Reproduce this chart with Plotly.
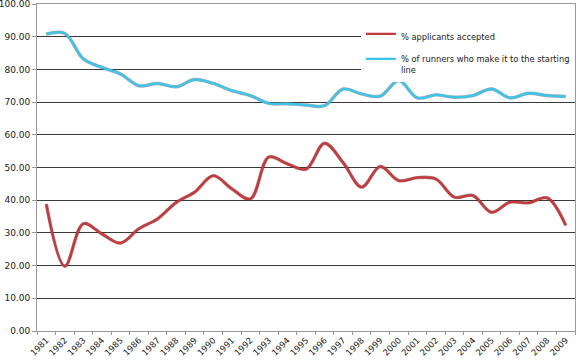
import plotly.graph_objects as go

years = [str(y) for y in range(1981, 2010)]
accepted = [38.8, 19.8, 32.8, 29.7, 26.9, 31.3, 34.3, 39.3, 42.5, 47.5,
            43.5, 40.4, 53.2, 51.1, 49.5, 57.4, 51.5, 44.0, 50.3, 46.0,
            46.9, 46.5, 40.9, 41.4, 36.3, 39.4, 39.2, 40.7, 32.3]
starting = [90.8, 91.0, 83.2, 80.6, 78.6, 75.0, 75.7, 74.7, 76.9, 75.7,
            73.5, 72.0, 69.6, 69.5, 69.1, 68.9, 74.0, 72.5, 71.8, 76.6,
            71.3, 72.2, 71.5, 72.0, 74.0, 71.3, 72.7, 72.0, 71.7]
y_ticks = [0, 10, 20, 30, 40, 50, 60, 70, 80, 90, 100]

FONT = "DejaVu Sans"
fig = go.Figure()

# soft outlines (shadow) under the lines
fig.add_trace(go.Scatter(x=years, y=accepted, mode="lines",
                         line=dict(color="rgba(110,30,32,0.55)", width=3.4, shape="spline", smoothing=1),
                         showlegend=False, hoverinfo="skip"))
fig.add_trace(go.Scatter(x=years, y=starting, mode="lines",
                         line=dict(color="rgba(90,105,115,0.55)", width=3.4, shape="spline", smoothing=1),
                         showlegend=False, hoverinfo="skip"))

fig.add_trace(go.Scatter(x=years, y=accepted, mode="lines", name="% applicants accepted",
                         legendgroup="a",
                         line=dict(color="#C43A3C", width=2.3, shape="spline", smoothing=1)))
fig.add_trace(go.Scatter(x=years, y=starting, mode="lines",
                         name="% of runners who make it to the starting<br>line",
                         legendgroup="b",
                         line=dict(color="#3DC4E8", width=2.3, shape="spline", smoothing=1)))

fig.update_layout(
    width=584, height=360,
    margin=dict(l=37, r=9, t=4, b=29, autoexpand=False),
    paper_bgcolor="white", plot_bgcolor="white",
    font=dict(family=FONT, size=9, color="#222"),
    legend=dict(x=0.602, y=0.945, xanchor="left", yanchor="top",
                bgcolor="white", font=dict(family=FONT, size=8.3, color="#222"),
                tracegroupgap=6, valign="top", itemwidth=30),
)
fig.update_xaxes(type="category", range=[-0.5, 28.5], tickangle=-45, automargin=False,
                 tickson="boundaries", ticks="outside", ticklen=3, tickcolor="#999",
                 showline=True, linecolor="#999", linewidth=1, mirror=True,
                 ticklabeloverflow="allow",
                 showgrid=False, tickfont=dict(family=FONT, size=8.5, color="#222"))
fig.update_yaxes(range=[0, 100], tickvals=y_ticks, tickformat=".2f", automargin=False,
                 ticks="outside", ticklen=4, tickcolor="#999",
                 showline=True, linecolor="#999", linewidth=1, mirror=True,
                 ticklabeloverflow="allow",
                 showgrid=True, gridcolor="#3a3a3a", gridwidth=1, zeroline=False,
                 tickfont=dict(family=FONT, size=9, color="#222"))

fig.write_html("out.html", config={"displayModeBar": False},
               post_script="document.body.style.margin='0';")
